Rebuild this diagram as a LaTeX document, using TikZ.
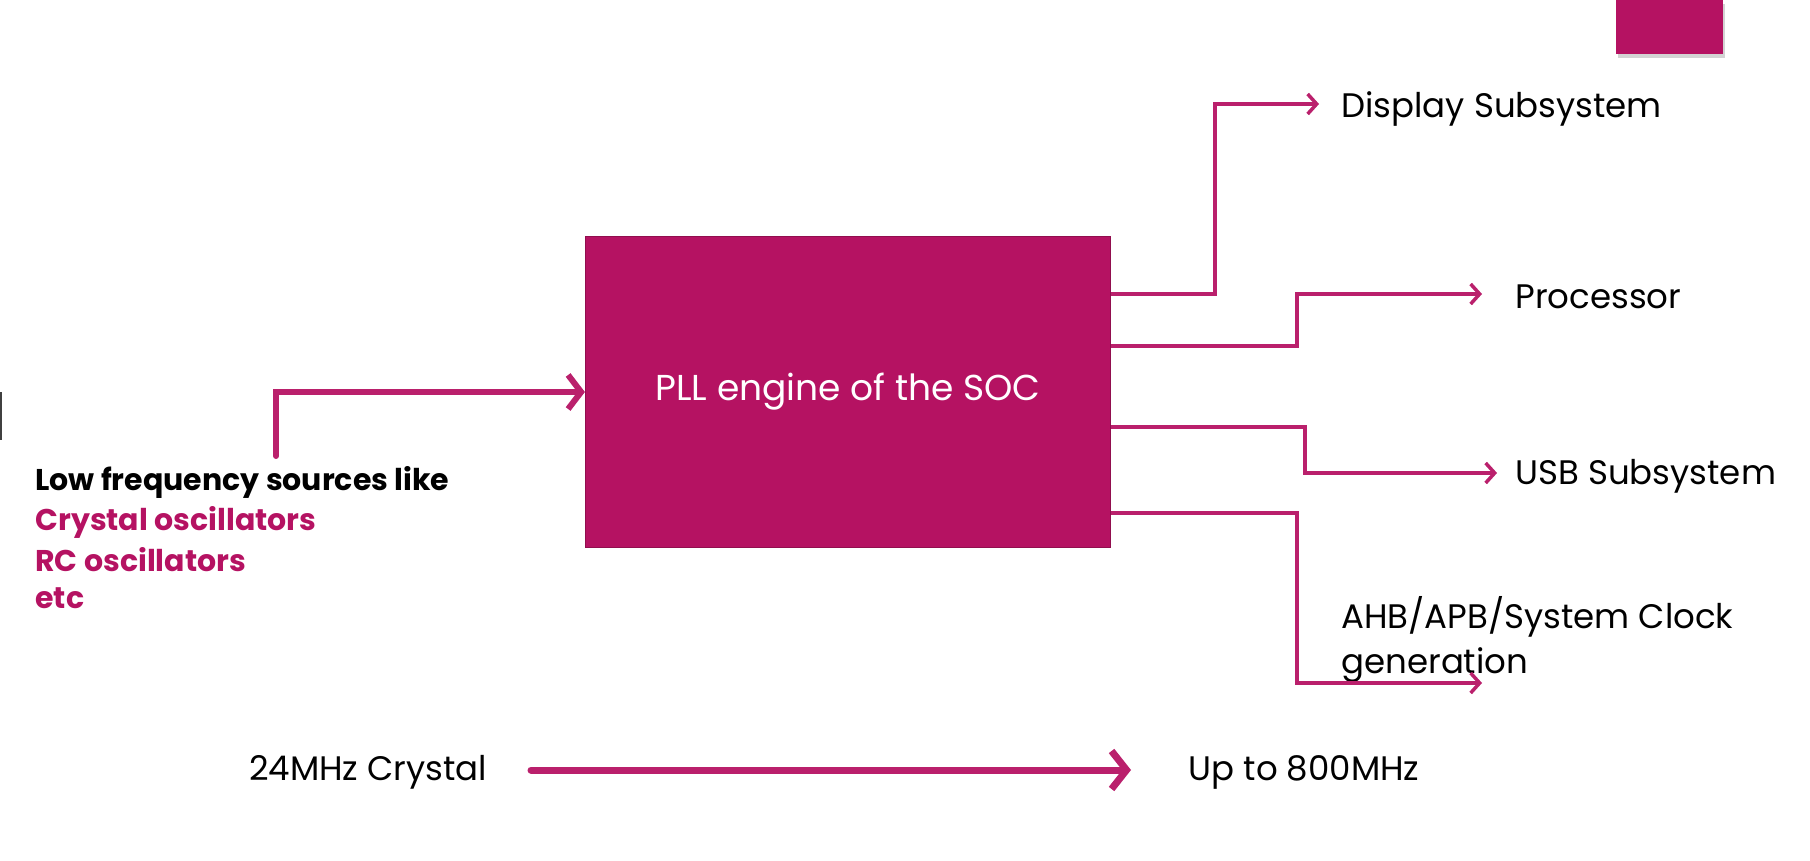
\documentclass[tikz,border=0pt]{standalone}
\usepackage{fontspec}
\setmainfont{Poppins}
\usepackage{tikz}
\usetikzlibrary{arrows.meta, positioning, calc, shadows}

\definecolor{socpink}{RGB}{181,18,98}
\definecolor{wirepink}{RGB}{186,32,108}

\begin{document}
\begin{tikzpicture}[x=0.5pt, y=-0.5pt,
		wire/.style={draw=wirepink, line width=1.75pt, -{Straight Barb[length=4.5pt,width=10pt,line width=1.75pt]}},
		feed/.style={draw=wirepink, line width=3pt, line cap=round, -{Straight Barb[length=6.5pt,width=17pt,line width=3pt]}},
		lbl/.style={anchor=west, inner sep=0pt, font=\fontsize{17}{22.5}\selectfont},
		src/.style={anchor=west, inner sep=0pt, font=\fontsize{15}{19}\selectfont\bfseries}]
				
				\useasboundingbox (0,0) rectangle (1810,861);
				
				% slide corner mark and edge
				\fill[socpink, drop shadow={shadow xshift=1pt, shadow yshift=-2pt, opacity=0.35}] (1616,0) rectangle (1723,54);
				\fill[black!75] (0,392) rectangle (2,440);
				
				\node[fill=socpink, draw=socpink!80!black, line width=0.6pt, minimum width=262.5pt, minimum height=155.5pt, text=white, font=\fontsize{18}{22}\selectfont] (pll) at (848,392) {PLL engine of the SOC};
				
				% input side
				\coordinate (lowsrc) at (276,456);
				\node[src] (low) at (35,482) {Low frequency sources like};
				\node[src, text=socpink] (xtal) at (35,522) {Crystal oscillators};
				\node[src, text=socpink] (rc) at (35,560) {RC oscillators};
				\node[src, text=socpink] (etc) at (35,598) {etc};
				\draw[feed] (lowsrc) |- (pll.west);
				
				% outputs
				\coordinate (d0) at (pll.east |- 0,294);
				\coordinate (p0) at (pll.east |- 0,346);
				\coordinate (u0) at (pll.east |- 0,427);
				\coordinate (a0) at (pll.east |- 0,513);
				\coordinate (d1) at (1319,104);
				\coordinate (p1) at (1482,294);
				\coordinate (u1) at (1497,473);
				\coordinate (a1) at (1482,683);
				
				\node[lbl] (disp) at (1341,109) {Display Subsystem};
				\node[lbl] (proc) at (1515,297) {Processor};
				\node[lbl] (usb) at (1515,476) {USB Subsystem};
				\node[lbl, align=left] (ahb) at (1341,640) {AHB/APB/System Clock\\generation};
				
				\draw[wire] (d0) -- (1215,294) |- (d1);
				\draw[wire] (p0) -- (1297,346) |- (p1);
				\draw[wire] (u0) -- (1305,427) |- (u1);
				\draw[wire] (a0) -- (1297,513) |- (a1);
				
				% crystal to output frequency
				\node[lbl, anchor=center] (in24) at (368,772) {24MHz Crystal};
				\node[lbl, anchor=center] (out800) at (1304,772) {Up to 800MHz};
				\draw[draw=wirepink, line width=3.5pt, line cap=round, -{Straight Barb[length=7.5pt,width=19pt,line width=3.5pt]}] (531,770) -- (1131,770);
			\end{tikzpicture}
\end{document}
